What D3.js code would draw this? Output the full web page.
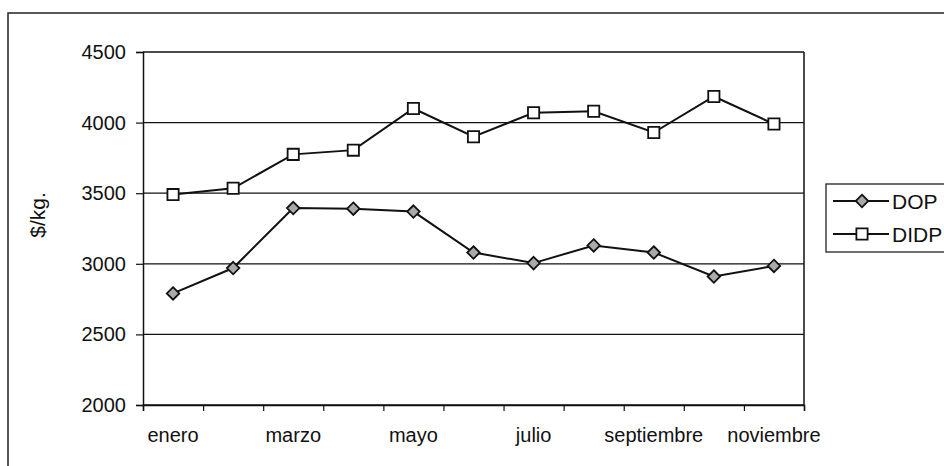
<!DOCTYPE html>
<html>
<head>
<meta charset="utf-8">
<script src="https://cdnjs.cloudflare.com/ajax/libs/d3/7.8.5/d3.min.js"></script>
<style>
	body{ margin:0; background:#fff; }
	text{ font-family:"Liberation Sans", Arial, sans-serif; fill:#111; }
</style>
</head>
<body>
<div id="chart"></div>
<script>
"use strict";

//********************************* DATA *********************************
var months = ["enero", "febrero", "marzo", "abril", "mayo", "junio",
              "julio", "agosto", "septiembre", "octubre", "noviembre"];
var shownMonths = ["enero", "marzo", "mayo", "julio", "septiembre", "noviembre"];
var dopValues  = [2790, 2970, 3395, 3390, 3370, 3080, 3005, 3130, 3080, 2910, 2985];
var didpValues = [3490, 3535, 3775, 3805, 4100, 3900, 4070, 4080, 3930, 4185, 3990];
var yTicks = [2000, 2500, 3000, 3500, 4000, 4500];
var seriesNames = ["DOP", "DIDP"];
var yTitle = "$/kg.";

//********************************* LAYOUT *********************************
var width = 944, height = 466;
var plot = {left:143, right:804, top:52, bottom:405};

var svg = d3.select("#chart")
			.append("svg")
			.attr("width", width)
			.attr("height", height);

//outer chart frame (only top and left edges fall inside the picture)
svg.append("rect")
	.attr("x", 8).attr("y", 13)
	.attr("width", 1200).attr("height", 1200)
	.attr("fill", "none")
	.attr("stroke", "#222")
	.attr("stroke-width", 1.5);

var x = d3.scaleBand().domain(months).range([plot.left, plot.right]);
var xEdges = d3.scaleLinear().domain([0, months.length]).range([plot.left, plot.right]);
var y = d3.scaleLinear().domain([2000, 4500]).range([plot.bottom, plot.top]);

//********************************* GRID *********************************
svg.append("g")
	.selectAll("line")
	.data(yTicks)
	.enter()
		.append("line")
		.attr("x1", plot.left).attr("x2", plot.right)
		.attr("y1", function(d){ return y(d); })
		.attr("y2", function(d){ return y(d); })
		.attr("stroke", "#111")
		.attr("stroke-width", 1.3);

//right edge of the plot area
svg.append("line")
	.attr("x1", plot.right).attr("x2", plot.right)
	.attr("y1", plot.top).attr("y2", plot.bottom)
	.attr("stroke", "#111")
	.attr("stroke-width", 1.5);

//********************************* AXES *********************************
var yAxis = svg.append("g")
	.attr("transform", "translate(" + plot.left + ",0)")
	.call(d3.axisLeft(y).tickValues(yTicks).tickSize(7).tickPadding(10).tickFormat(d3.format("d")));

var xTicks = svg.append("g")
	.attr("transform", "translate(0," + plot.bottom + ")")
	.call(d3.axisBottom(xEdges).ticks(months.length).tickSize(6).tickFormat(""));

var xLabels = svg.append("g")
	.attr("transform", "translate(0," + plot.bottom + ")")
	.call(d3.axisBottom(x).tickSize(0).tickPadding(23)
		.tickFormat(function(d){ return shownMonths.indexOf(d) >= 0 ? d : ""; }));
xLabels.select(".domain").remove();

[yAxis, xTicks].forEach(function(g){
	g.select(".domain").attr("stroke", "#111").attr("stroke-width", 1.5);
	g.selectAll(".tick line").attr("stroke", "#111").attr("stroke-width", 1.2);
});
svg.selectAll(".tick text")
	.attr("font-size", 20)
	.attr("font-family", "'Liberation Sans', Arial, sans-serif")
	.attr("fill", "#111");

svg.append("text")
	.text(yTitle)
	.attr("transform", "translate(45,215) rotate(-90)")
	.attr("text-anchor", "middle")
	.attr("font-size", 21);

//********************************* SERIES *********************************
var line = d3.line()
	.x(function(d, i){ return x(months[i]) + x.bandwidth() / 2; })
	.y(function(d){ return y(d); });

var diamond = d3.symbol().type(d3.symbolDiamond2).size(100);
var square = d3.symbol().type(d3.symbolSquare2).size(160);

function drawSeries(values, symbol, fill){
	svg.append("path")
		.attr("d", line(values))
		.attr("fill", "none")
		.attr("stroke", "#111")
		.attr("stroke-width", 2);

	svg.append("g")
		.selectAll("path")
		.data(values)
		.enter()
			.append("path")
			.attr("d", symbol)
			.attr("transform", function(d, i){
				return "translate(" + (x(months[i]) + x.bandwidth() / 2) + "," + y(d) + ")";
			})
			.attr("fill", fill)
			.attr("stroke", "#111")
			.attr("stroke-width", 1.8);
}

drawSeries(didpValues, square, "#fff");
drawSeries(dopValues, diamond, "#aaa");

//********************************* LEGEND *********************************
var legend = svg.append("g").attr("transform", "translate(826,184)");
legend.append("rect")
	.attr("width", 200).attr("height", 68)
	.attr("fill", "#fff")
	.attr("stroke", "#222")
	.attr("stroke-width", 1.3);

var legendSymbols = [diamond, square];
var legendFills = ["#aaa", "#fff"];
for(var i = 0; i < seriesNames.length; ++i){
	var ly = 17 + i * 33;
	legend.append("line")
		.attr("x1", 7).attr("x2", 63)
		.attr("y1", ly).attr("y2", ly)
		.attr("stroke", "#111")
		.attr("stroke-width", 2);
	legend.append("path")
		.attr("d", legendSymbols[i])
		.attr("transform", "translate(36," + ly + ")")
		.attr("fill", legendFills[i])
		.attr("stroke", "#111")
		.attr("stroke-width", 1.8);
	legend.append("text")
		.text(seriesNames[i])
		.attr("x", 66).attr("y", ly)
		.attr("dy", "0.36em")
		.attr("font-size", 21);
}
</script>
</body>
</html>
